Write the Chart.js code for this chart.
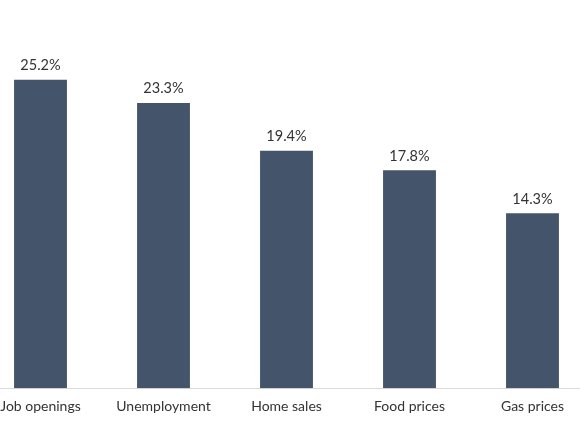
<!DOCTYPE html>
<html>
<head>
<meta charset="utf-8">
<script src="https://cdn.jsdelivr.net/npm/chart.js@4/dist/chart.umd.min.js"></script>
<style>
    html, body { margin: 0; padding: 0; background: #fff; overflow: hidden; }
    #wrap { position: absolute; left: -21px; top: 0; width: 615px; height: 435px; }
</style>
</head>
<body>
<div id="wrap"><canvas id="barChart"></canvas></div>
<script>
var categories = ['Job openings', 'Unemployment', 'Home sales', 'Food prices', 'Gas prices'];
var shares = [25.2, 23.3, 19.4, 17.8, 14.3];

(function () {
    // draws the percentage above each bar
    var valueLabels = {
        id: 'valueLabels',
        afterDatasetsDraw: function (chart) {
            var ctx = chart.ctx;
            var meta = chart.getDatasetMeta(0);
            ctx.save();
            ctx.font = '14.5px Lato, "Open Sans", sans-serif';
            ctx.fillStyle = '#333333';
            ctx.textAlign = 'center';
            ctx.textBaseline = 'bottom';
            meta.data.forEach(function (bar, i) {
                ctx.fillText(shares[i].toFixed(1) + '%', bar.x, bar.y - 7);
            });
            ctx.restore();
        }
    };

    var ctx = document.getElementById('barChart').getContext('2d');
    new Chart(ctx, {
        type: 'bar',
        data: {
            labels: categories,
            datasets: [{
                data: shares,
                backgroundColor: '#44546a',
                barPercentage: 0.43,
                categoryPercentage: 1
            }]
        },
        options: {
            responsive: true,
            maintainAspectRatio: false,
            animation: false,
            layout: { padding: { top: 21, bottom: 10, left: 0, right: 0 } },
            plugins: {
                legend: { display: false },
                tooltip: { enabled: false }
            },
            scales: {
                x: {
                    grid: { display: false, drawTicks: false },
                    border: { color: '#d9d9d9', width: 1 },
                    ticks: {
                        color: '#333333',
                        padding: 10,
                        font: { family: 'Lato, "Open Sans", sans-serif', size: 14 }
                    }
                },
                y: {
                    display: false,
                    min: 0,
                    max: 30
                }
            }
        },
        plugins: [valueLabels]
    });
})();
</script>
</body>
</html>
